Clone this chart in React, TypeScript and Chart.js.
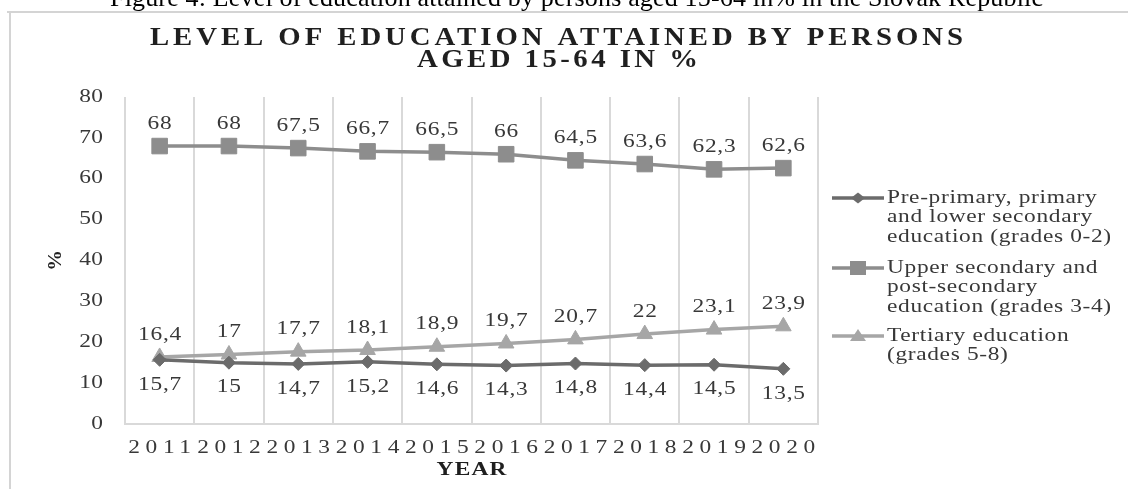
import { useEffect, useRef } from "react";
import { Chart, registerables } from "chart.js";

Chart.register(...registerables);

const caption =
  "Figure 4: Level of education attained by persons aged 15-64 in% in the Slovak Republic";
const titleLines = ["LEVEL OF EDUCATION ATTAINED BY PERSONS", "AGED 15-64 IN %"];
const xAxisTitle = "YEAR";
const yAxisTitle = "%";

const years = ["2011", "2012", "2013", "2014", "2015", "2016", "2017", "2018", "2019", "2020"];
const yTicks = [0, 10, 20, 30, 40, 50, 60, 70, 80];

const lowerSecondary = [15.7, 15, 14.7, 15.2, 14.6, 14.3, 14.8, 14.4, 14.5, 13.5];
const upperSecondary = [68, 68, 67.5, 66.7, 66.5, 66, 64.5, 63.6, 62.3, 62.6];
const tertiary = [16.4, 17, 17.7, 18.1, 18.9, 19.7, 20.7, 22, 23.1, 23.9];

const legendLower = ["Pre-primary, primary", "and lower secondary", "education (grades 0-2)"];
const legendUpper = ["Upper secondary and", "post-secondary", "education (grades 3-4)"];
const legendTertiary = ["Tertiary education", "(grades 5-8)"];

const FONT = '"Liberation Serif", "Times New Roman", serif';
const TEXT = "#383838";
const SX = 1.3;

function fmt(v: number) {
  return String(v).replace(".", ",");
}

function txt(
  ctx: CanvasRenderingContext2D,
  text: string,
  x: number,
  y: number,
  opts: { align?: "left" | "center" | "right"; sx?: number; ls?: number; fitTo?: number }
) {
  const sx = opts.sx ?? 1;
  (ctx as any).letterSpacing = "0px";
  const nat = ctx.measureText(text).width;
  let ls = opts.ls ?? 0;
  if (opts.fitTo !== undefined && text.length > 1) {
    ls = (opts.fitTo / sx - nat) / (text.length - 1);
  }
  const w = sx * (nat + ls * (text.length - 1));
  let left = x;
  if (opts.align === "center") left = x - w / 2;
  else if (opts.align === "right") left = x - w;
  ctx.save();
  ctx.translate(left, y);
  ctx.scale(sx, 1);
  (ctx as any).letterSpacing = ls + "px";
  ctx.textAlign = "left";
  ctx.fillText(text, 0, 0);
  ctx.restore();
  (ctx as any).letterSpacing = "0px";
}

function marker(ctx: CanvasRenderingContext2D, style: string, x: number, y: number, color: string) {
  ctx.fillStyle = color;
  ctx.beginPath();
  if (style === "rect") {
    ctx.rect(x - 8, y - 7, 16, 14);
  } else if (style === "rectRot") {
    ctx.moveTo(x, y - 5.5);
    ctx.lineTo(x + 7, y);
    ctx.lineTo(x, y + 5.5);
    ctx.lineTo(x - 7, y);
    ctx.closePath();
  } else {
    ctx.moveTo(x, y - 7);
    ctx.lineTo(x + 8, y + 5);
    ctx.lineTo(x - 8, y + 5);
    ctx.closePath();
  }
  ctx.fill();
}

const decorPlugin = {
  id: "decor",
  beforeDraw(chart: any) {
    const ctx = chart.ctx as CanvasRenderingContext2D;
    ctx.save();
    ctx.fillStyle = "#ffffff";
    ctx.fillRect(0, 0, chart.width, chart.height);
    ctx.restore();
  },
  afterDatasetsDraw(chart: any) {
    const ctx = chart.ctx as CanvasRenderingContext2D;
    ctx.save();
    ctx.font = `18px ${FONT}`;
    ctx.fillStyle = TEXT;
    ctx.textBaseline = "middle";
    chart.data.datasets.forEach((ds: any, di: number) => {
      const meta = chart.getDatasetMeta(di);
      meta.data.forEach((pt: any, i: number) => {
        const dy = ds.labelPos === "below" ? 25 : -22;
        txt(ctx, fmt(ds.data[i]), pt.x, pt.y + dy, { align: "center", sx: SX, ls: 0.6 });
      });
    });
    ctx.restore();
  },
  afterDraw(chart: any) {
    const ctx = chart.ctx as CanvasRenderingContext2D;
    const area = chart.chartArea;
    const xs = chart.scales.x;
    const ys = chart.scales.y;
    ctx.save();

    // frame
    ctx.strokeStyle = "#d4d4d4";
    ctx.lineWidth = 2;
    ctx.beginPath();
    ctx.moveTo(7, 12);
    ctx.lineTo(chart.width, 12);
    ctx.moveTo(10, 12);
    ctx.lineTo(10, chart.height);
    ctx.stroke();

    // caption
    ctx.fillStyle = "#000000";
    ctx.font = `26px ${FONT}`;
    ctx.textBaseline = "alphabetic";
    txt(ctx, caption, 110, 6, { align: "left", fitTo: 933 });

    // title
    ctx.fillStyle = "#1f1f1f";
    ctx.font = `bold 25px ${FONT}`;
    ctx.textBaseline = "middle";
    txt(ctx, titleLines[0], 150, 39, { align: "left", sx: 1.15, fitTo: 813 });
    txt(ctx, titleLines[1], 417, 60.5, { align: "left", sx: 1.15, fitTo: 281 });

    // y tick labels
    ctx.fillStyle = TEXT;
    ctx.font = `18px ${FONT}`;
    yTicks.forEach((v) => {
      txt(ctx, String(v), 103, ys.getPixelForValue(v), { align: "right", sx: SX, ls: 0.3 });
    });

    // x tick labels
    years.forEach((y, i) => {
      txt(ctx, y, xs.getPixelForValue(i), 448, { align: "center", sx: SX, ls: 4.3 });
    });

    // x axis title
    ctx.fillStyle = "#1f1f1f";
    ctx.font = `bold 18px ${FONT}`;
    txt(ctx, xAxisTitle, (area.left + area.right) / 2, 470, { align: "center", sx: SX, fitTo: 70 });

    // y axis title
    ctx.save();
    ctx.translate(56, (area.top + area.bottom) / 2);
    ctx.rotate(-Math.PI / 2);
    ctx.font = `bold 18px ${FONT}`;
    txt(ctx, yAxisTitle, 0, 0, { align: "center", sx: 1.15 });
    ctx.restore();

    // legend
    const lx0 = 832;
    const lx1 = 884;
    const tx = 887;
    const lh = 19.7;
    const starts = [198, 268, 336];
    ctx.font = `18px ${FONT}`;
    chart.data.datasets.forEach((ds: any, di: number) => {
      const y0 = starts[di];
      ctx.strokeStyle = ds.borderColor;
      ctx.lineWidth = 3.5;
      ctx.beginPath();
      ctx.moveTo(lx0, y0);
      ctx.lineTo(lx1, y0);
      ctx.stroke();
      marker(ctx, ds.pointStyle, (lx0 + lx1) / 2, y0, ds.borderColor);
      ctx.fillStyle = TEXT;
      ctx.textBaseline = "middle";
      (ds.legendLines as string[]).forEach((line, li) => {
        txt(ctx, line, tx, y0 + li * lh, { align: "left", sx: SX, ls: 0.5 });
      });
    });

    ctx.restore();
  },
};

export default function App() {
  const ref = useRef<HTMLCanvasElement | null>(null);

  useEffect(() => {
    document.body.style.margin = "0";
    const canvas = ref.current;
    if (!canvas) return;
    const chart = new Chart(canvas, {
      type: "line",
      data: {
        labels: years,
        datasets: [
          {
            label: legendLower.join(" "),
            data: lowerSecondary,
            borderColor: "#6b6b6b",
            backgroundColor: "#6b6b6b",
            pointBackgroundColor: "#6b6b6b",
            pointBorderColor: "#6b6b6b",
            borderWidth: 3.5,
            pointStyle: "rectRot",
            pointRadius: 6.5,
            pointBorderWidth: 1,
            labelPos: "below",
            legendLines: legendLower,
          } as any,
          {
            label: legendUpper.join(" "),
            data: upperSecondary,
            borderColor: "#8d8d8d",
            backgroundColor: "#8d8d8d",
            pointBackgroundColor: "#8d8d8d",
            pointBorderColor: "#8d8d8d",
            borderWidth: 3.5,
            pointStyle: "rect",
            pointRadius: 11,
            pointBorderWidth: 1,
            labelPos: "above",
            legendLines: legendUpper,
          } as any,
          {
            label: legendTertiary.join(" "),
            data: tertiary,
            borderColor: "#a6a6a6",
            backgroundColor: "#a6a6a6",
            pointBackgroundColor: "#a6a6a6",
            pointBorderColor: "#a6a6a6",
            borderWidth: 3.5,
            pointStyle: "triangle",
            pointRadius: 9,
            pointBorderWidth: 1,
            labelPos: "above",
            legendLines: legendTertiary,
          } as any,
        ],
      },
      options: {
        animation: false,
        responsive: false,
        maintainAspectRatio: false,
        devicePixelRatio: 1,
        layout: { padding: { top: 97, right: 310, bottom: 0, left: 0 } },
        plugins: {
          legend: { display: false },
          title: { display: false },
          tooltip: { enabled: false },
        },
        scales: {
          x: {
            type: "category",
            offset: true,
            grid: { offset: true, color: "#d9d9d9", lineWidth: 2, drawTicks: false },
            border: { display: true, color: "#d9d9d9", width: 2 },
            ticks: { display: false },
            afterFit: (s: any) => {
              s.height = 65;
            },
          },
          y: {
            min: 0,
            max: 80,
            afterBuildTicks: (s: any) => {
              s.ticks = yTicks.map((v) => ({ value: v }));
            },
            ticks: { display: false },
            grid: { display: false, drawTicks: false },
            border: { display: false },
            afterFit: (s: any) => {
              s.width = 125;
            },
          },
        },
      },
      plugins: [decorPlugin],
    });
    return () => chart.destroy();
  }, []);

  return (
    <canvas
      ref={ref}
      width={1128}
      height={489}
      style={{ display: "block", width: "1128px", height: "489px" }}
    />
  );
}
